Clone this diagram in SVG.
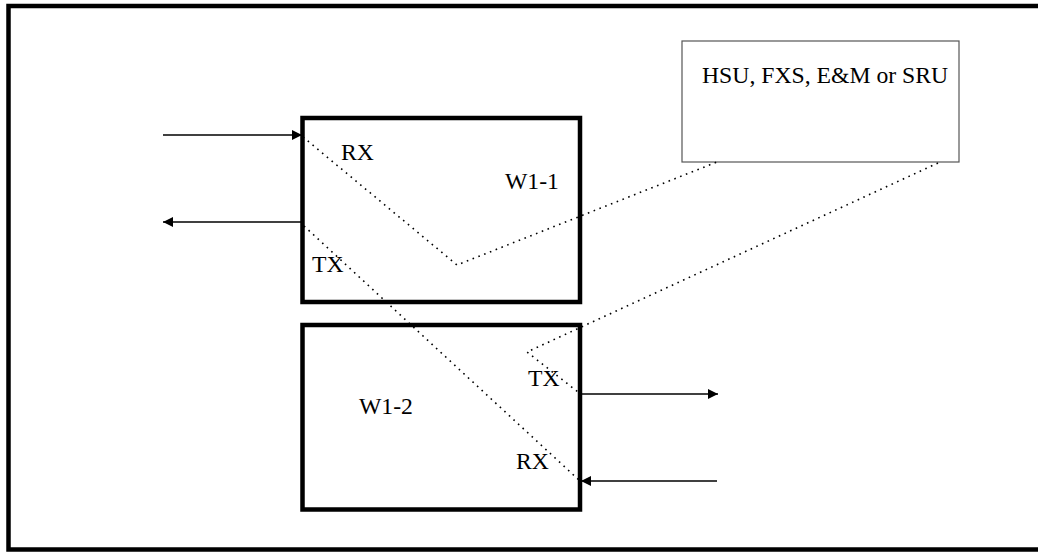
<svg xmlns="http://www.w3.org/2000/svg" width="1038" height="552" viewBox="0 0 1038 552">
<defs>
<marker id="ah" viewBox="0 0 10 10" refX="10" refY="5" markerWidth="11" markerHeight="10" markerUnits="userSpaceOnUse" orient="auto">
<path d="M0,0 L10,5 L0,10 Z" fill="#000"/>
</marker>
</defs>
<style>
text{font-family:"Liberation Serif","Times New Roman",serif;font-size:23.7px;fill:#000}
.thick{fill:#fff;stroke:#000;stroke-width:4.5}
.thin{fill:#fff;stroke:#555;stroke-width:1.2}
.arr{stroke:#000;stroke-width:1.6;fill:none;marker-end:url(#ah)}
.dot{stroke:#000;stroke-width:1.6;fill:none;stroke-dasharray:1.6 4.6}
</style>
<rect width="1038" height="552" fill="#fff"/>
<rect id="frame" x="8.5" y="6" width="1040" height="543.5" fill="none" stroke="#000" stroke-width="4.5"/>
<g id="hsu">
<rect class="thin" x="682" y="41" width="277" height="121"/>
<text x="702" y="83">HSU, FXS, E&amp;M or SRU</text>
</g>
<g id="w1-1">
<rect class="thick" x="302.5" y="118" width="277.5" height="184"/>
<text x="505" y="189">W1-1</text>
<text x="341" y="160">RX</text>
<text x="312" y="272">TX</text>
</g>
<g id="w1-2">
<rect class="thick" x="302.5" y="325" width="277.5" height="184.5"/>
<text x="359" y="414">W1-2</text>
<text x="528" y="386">TX</text>
<text x="516" y="469">RX</text>
</g>
<g id="connectors">
<line class="arr" x1="163" y1="135" x2="302" y2="135"/>
<line class="arr" x1="302" y1="222" x2="163" y2="222"/>
<line class="arr" x1="580" y1="394" x2="718" y2="394"/>
<line class="arr" x1="717" y1="481" x2="581" y2="481"/>
<polyline class="dot" points="303,137 457,265 717,162"/>
<line class="dot" x1="304" y1="226" x2="580" y2="481"/>
<polyline class="dot" points="938,163 527,352 578,392"/>
</g>
</svg>
